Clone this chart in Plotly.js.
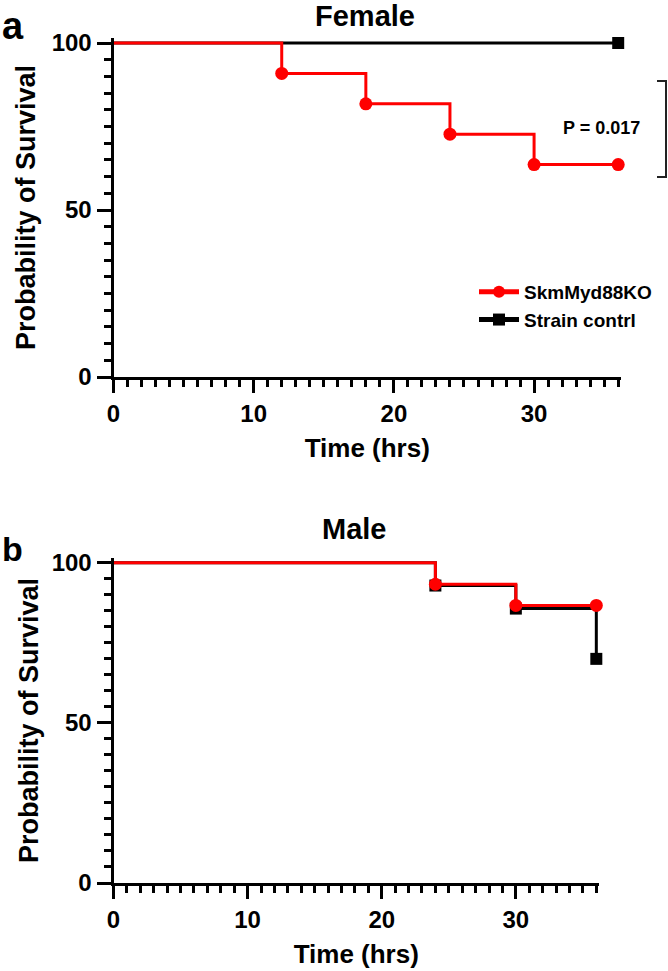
<!DOCTYPE html>
<html><head><meta charset="utf-8">
<script src="https://cdn.plot.ly/plotly-3.0.1.min.js"></script>
<style>html,body{margin:0;padding:0;background:#fff}#chart{width:668px;height:971px}</style>
</head><body><div id="chart"></div>
<script>
// ---- data ----
const femaleKoTime = [0, 12, 18, 24, 30, 36];
const femaleKoSurv = [100, 90.9, 81.8, 72.7, 63.6, 63.6];
const femaleCtrlTime = [0, 36];
const femaleCtrlSurv = [100, 100];
const maleKoTime = [0, 24, 30, 36];
const maleKoSurv = [100, 93.3, 86.7, 86.7];
const maleCtrlTime = [0, 24, 30, 36];
const maleCtrlSurv = [100, 92.9, 85.7, 70.0];
const seriesNames = ['SkmMyd88KO', 'Strain contrl'];
const panelTitles = ['Female', 'Male'];
const panelLetters = ['a', 'b'];
const pValueText = 'P = 0.017';
const xTitle = 'Time (hrs)';
const yTitle = 'Probability of Survival';

// ---- layout helpers ----
const W = 668, H = 971;
const px = x => x / W;
const py = y => 1 - y / H;
const FONT = 'Arial, "Liberation Sans", sans-serif';
const RED = '#ff0000', BLACK = '#000000';

function sizes(arr, s) { return arr.map((_, i) => i === 0 ? 0 : s); }

function stepTrace(t, s, name, color, symbol, msize, xa, ya, showlegend, rank) {
  return {
    x: t, y: s, name: name, type: 'scatter', mode: 'lines+markers',
    xaxis: xa, yaxis: ya, showlegend: showlegend, legendrank: rank,
    line: {shape: 'hv', color: color, width: 3},
    marker: {symbol: symbol, color: color, size: sizes(t, msize), opacity: 1, line: {width: 0}},
    cliponaxis: false, hoverinfo: 'skip'
  };
}

const traces = [
  stepTrace(femaleCtrlTime, femaleCtrlSurv, seriesNames[1], BLACK, 'square', 12, 'x', 'y', true, 2),
  stepTrace(femaleKoTime, femaleKoSurv, seriesNames[0], RED, 'circle', 13, 'x', 'y', true, 1),
  stepTrace(maleCtrlTime, maleCtrlSurv, seriesNames[1], BLACK, 'square', 12, 'x2', 'y2', false, 2),
  stepTrace(maleKoTime, maleKoSurv, seriesNames[0], RED, 'circle', 13, 'x2', 'y2', false, 1)
];

function xAxis(domain, anchor, xmax) {
  return {
    domain: domain, anchor: anchor, range: [0, xmax], tick0: 0, dtick: 10,
    ticks: 'outside', ticklen: 13, tickwidth: 3, tickcolor: BLACK,
    showline: true, linewidth: 3, linecolor: BLACK, showgrid: false, zeroline: false,
    minor: {tick0: 0, dtick: 1, ticks: 'outside', ticklen: 7, tickwidth: 3, tickcolor: BLACK, showgrid: false},
    tickfont: {family: FONT, size: 24, weight: 'bold', color: BLACK},
    title: {text: xTitle, font: {family: FONT, size: 26, weight: 'bold', color: BLACK}, standoff: 14},
    fixedrange: true, automargin: false
  };
}
function yAxis(domain, anchor, standoff) {
  return {
    domain: domain, anchor: anchor, range: [0, 101.5], tick0: 0, dtick: 50,
    ticks: 'outside', ticklen: 14, tickwidth: 3, tickcolor: BLACK,
    showline: true, linewidth: 3, linecolor: BLACK, showgrid: false, zeroline: false,
    minor: {tick0: 0, dtick: 5, ticks: 'outside', ticklen: 7, tickwidth: 3, tickcolor: BLACK, showgrid: false},
    tickfont: {family: FONT, size: 24, weight: 'bold', color: BLACK},
    title: {text: yTitle, font: {family: FONT, size: 27, weight: 'bold', color: BLACK}, standoff: standoff},
    fixedrange: true, automargin: false
  };
}

const layout = {
  width: W, height: H,
  margin: {l: 0, r: 0, t: 0, b: 0},
  paper_bgcolor: '#fff', plot_bgcolor: '#fff',
  font: {family: FONT, color: BLACK},
  showlegend: true,
  legend: {
    x: px(474), y: py(273), xanchor: 'left', yanchor: 'top',
    bgcolor: 'rgba(0,0,0,0)', borderwidth: 0,
    font: {family: FONT, size: 19, weight: 'bold', color: BLACK},
    itemsizing: 'constant', itemwidth: 40, tracegroupgap: 0
  },
  xaxis: xAxis([px(113.5), px(621)], 'y', 36.2),
  yaxis: yAxis([py(377), py(38)], 'x', 9),
  xaxis2: xAxis([px(113.5), px(599)], 'y2', 36.2),
  yaxis2: yAxis([py(883), py(558)], 'x2', 6),
  annotations: [
    {text: panelTitles[0], xref: 'paper', yref: 'paper', x: px(365), y: py(16), xanchor: 'center', yanchor: 'middle', showarrow: false, font: {family: FONT, size: 29, weight: 'bold', color: BLACK}},
    {text: panelTitles[1], xref: 'paper', yref: 'paper', x: px(354), y: py(529), xanchor: 'center', yanchor: 'middle', showarrow: false, font: {family: FONT, size: 29, weight: 'bold', color: BLACK}},
    {text: panelLetters[0], xref: 'paper', yref: 'paper', x: px(0), y: py(26), xanchor: 'left', yanchor: 'middle', showarrow: false, font: {family: FONT, size: 38, weight: 'bold', color: BLACK}},
    {text: panelLetters[1], xref: 'paper', yref: 'paper', x: px(0), y: py(549), xanchor: 'left', yanchor: 'middle', showarrow: false, font: {family: FONT, size: 34, weight: 'bold', color: BLACK}},
    {text: pValueText, xref: 'paper', yref: 'paper', x: px(601), y: py(128), xanchor: 'center', yanchor: 'middle', showarrow: false, font: {family: FONT, size: 18, weight: 'bold', color: BLACK}}
  ],
  shapes: [
    {type: 'line', xref: 'paper', yref: 'paper', x0: px(666), x1: px(666), y0: py(81), y1: py(177), line: {color: '#222', width: 2}},
    {type: 'line', xref: 'paper', yref: 'paper', x0: px(657), x1: px(667), y0: py(81), y1: py(81), line: {color: '#222', width: 2}},
    {type: 'line', xref: 'paper', yref: 'paper', x0: px(657), x1: px(667), y0: py(177), y1: py(177), line: {color: '#222', width: 2}}
  ]
};

Plotly.newPlot('chart', traces, layout, {staticPlot: true, displayModeBar: false});
</script>
</body></html>
